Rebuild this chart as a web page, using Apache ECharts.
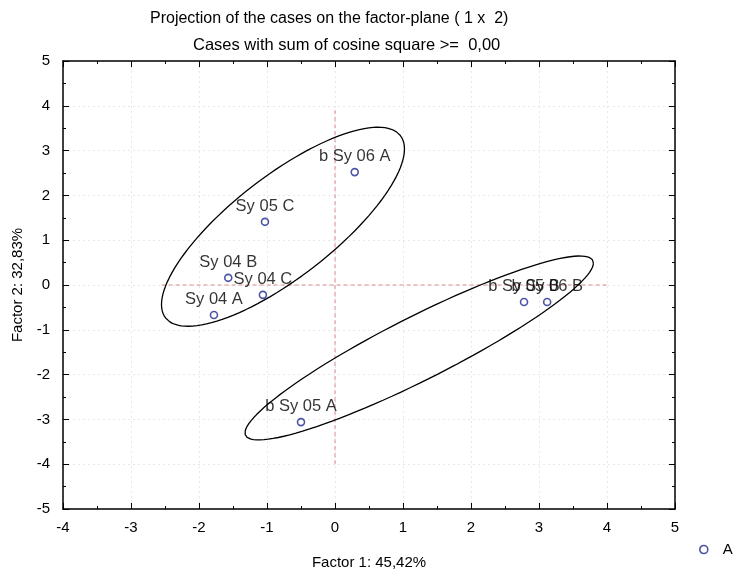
<!DOCTYPE html>
<html><head><meta charset="utf-8">
<script src="https://cdn.jsdelivr.net/npm/echarts@6/dist/echarts.min.js"></script>
<style>html,body{margin:0;padding:0;background:#fff}#c{width:735px;height:571px}</style>
</head><body><div id="c"></div>
<script>
// ---- data ----
const caseNames = ['b Sy 06 A','Sy 05 C','Sy 04 B','Sy 04 C','Sy 04 A','b Sy 05 B','b Sy 06 B','b Sy 05 A'];
const factor1   = [0.29, -1.03, -1.57, -1.06, -1.78, 2.78, 3.12, -0.50];
const factor2   = [2.52,  1.41,  0.16, -0.22, -0.67, -0.38, -0.38, -3.06];
const xRange = [-4, 5];
const yRange = [-5, 5];
// ellipses: centre [x, y] and spread [var x, var y, cov xy] in factor units
const ellipseCenters = [[-0.765, 1.30], [1.238, -1.406]];
const ellipseSpread  = [[3.192, 4.933, 3.103], [6.563, 4.217, 4.856]];
// dashed reference lines through the origin
const refLineH = [[-2.55, 0], [4, 0]];
const refLineV = [[0, -4], [0, 3.9]];
const titleText = 'Projection of the cases on the factor-plane ( 1 x  2)';
const subText = 'Cases with sum of cosine square >=  0,00';
const xName = 'Factor 1: 45,42%';
const yName = 'Factor 2: 32,83%';
const seriesName = 'A';

function ellipsePoints(c, s) {
  const a = Math.sqrt(s[0]);
  const b = s[2] / a;
  const d = Math.sqrt(s[1] - b * b);
  const pts = [];
  for (let i = 0; i <= 120; i++) {
    const t = i / 120 * 2 * Math.PI;
    pts.push([c[0] + a * Math.cos(t), c[1] + b * Math.cos(t) + d * Math.sin(t)]);
  }
  return pts;
}

const FONT = 'Liberation Sans, Arial, sans-serif';
const chart = echarts.init(document.getElementById('c'), null, {renderer: 'canvas'});
const points = factor1.map((x, i) => ({value: [x, factor2[i]], name: caseNames[i]}));

const axisCommon = {
  type: 'value', interval: 1,
  axisLine: {show: true, onZero: false, lineStyle: {color: '#000', width: 1.5}},
  axisTick: {show: true, inside: true, length: 6, lineStyle: {color: '#000', width: 1}},
  minorTick: {show: true, splitNumber: 2, length: 3, lineStyle: {color: '#000'}},
  splitLine: {show: false}
};

const series = [
  {
    name: seriesName, type: 'scatter', data: points, z: 5,
    symbol: 'circle', symbolSize: 7,
    itemStyle: {color: '#fff', borderColor: '#1f2a8e', borderWidth: 1.6},
    label: {show: true, position: 'top', distance: 3, formatter: p => p.name,
      color: '#000', fontSize: 16.5, fontFamily: FONT, textBorderWidth: 0}
  }
];
ellipseCenters.forEach((c, i) => {
  series.push({type: 'line', data: ellipsePoints(c, ellipseSpread[i]), symbol: 'none',
    lineStyle: {color: '#000', width: 1.3}, z: 3, silent: true});
});
[refLineH, refLineV].forEach(r => {
  series.push({type: 'line', data: r, symbol: 'none', silent: true, z: 2,
    lineStyle: {color: '#d98c8c', width: 1, type: [4, 3]}});
});

chart.setOption({
  animation: false,
  backgroundColor: '#fff',
  title: [
    {text: titleText, left: 145, top: 6, textStyle: {fontSize: 16, fontWeight: 'normal', color: '#000', fontFamily: FONT}},
    {text: subText, left: 188, top: 32, textStyle: {fontSize: 16.5, fontWeight: 'normal', color: '#000', fontFamily: FONT}}
  ],
  legend: {data: [{name: seriesName, icon: 'circle'}], left: 694, top: 537, itemWidth: 8, itemHeight: 8, itemGap: 5,
    itemStyle: {color: '#fff', borderColor: '#1f2a8e', borderWidth: 1.6},
    textStyle: {fontSize: 15, color: '#000', fontFamily: FONT, padding: [0, 0, 0, 10]}},
  grid: {left: 63, right: 60, top: 61, bottom: 62, containLabel: false, outerBoundsMode: 'none'},
  xAxis: [
    Object.assign({}, axisCommon, {min: xRange[0], max: xRange[1], position: 'bottom',
      name: xName, nameLocation: 'middle', nameGap: 46,
      nameTextStyle: {fontSize: 15, color: '#000', fontFamily: FONT},
      axisLabel: {color: '#000', fontSize: 15, margin: 11, fontFamily: FONT},
      splitLine: {show: true, lineStyle: {color: '#e8e8e8', type: [2, 3]}}}),
    Object.assign({}, axisCommon, {min: xRange[0], max: xRange[1], position: 'top', axisLabel: {show: false}})
  ],
  yAxis: [
    Object.assign({}, axisCommon, {min: yRange[0], max: yRange[1], position: 'left',
      name: yName, nameLocation: 'middle', nameGap: 37,
      nameTextStyle: {fontSize: 15, color: '#000', fontFamily: FONT},
      axisLabel: {color: '#000', fontSize: 15, margin: 13, fontFamily: FONT},
      splitLine: {show: true, lineStyle: {color: '#e8e8e8', type: [2, 3]}}}),
    Object.assign({}, axisCommon, {min: yRange[0], max: yRange[1], position: 'right', axisLabel: {show: false}})
  ],
  series: series
});
</script>
</body></html>
